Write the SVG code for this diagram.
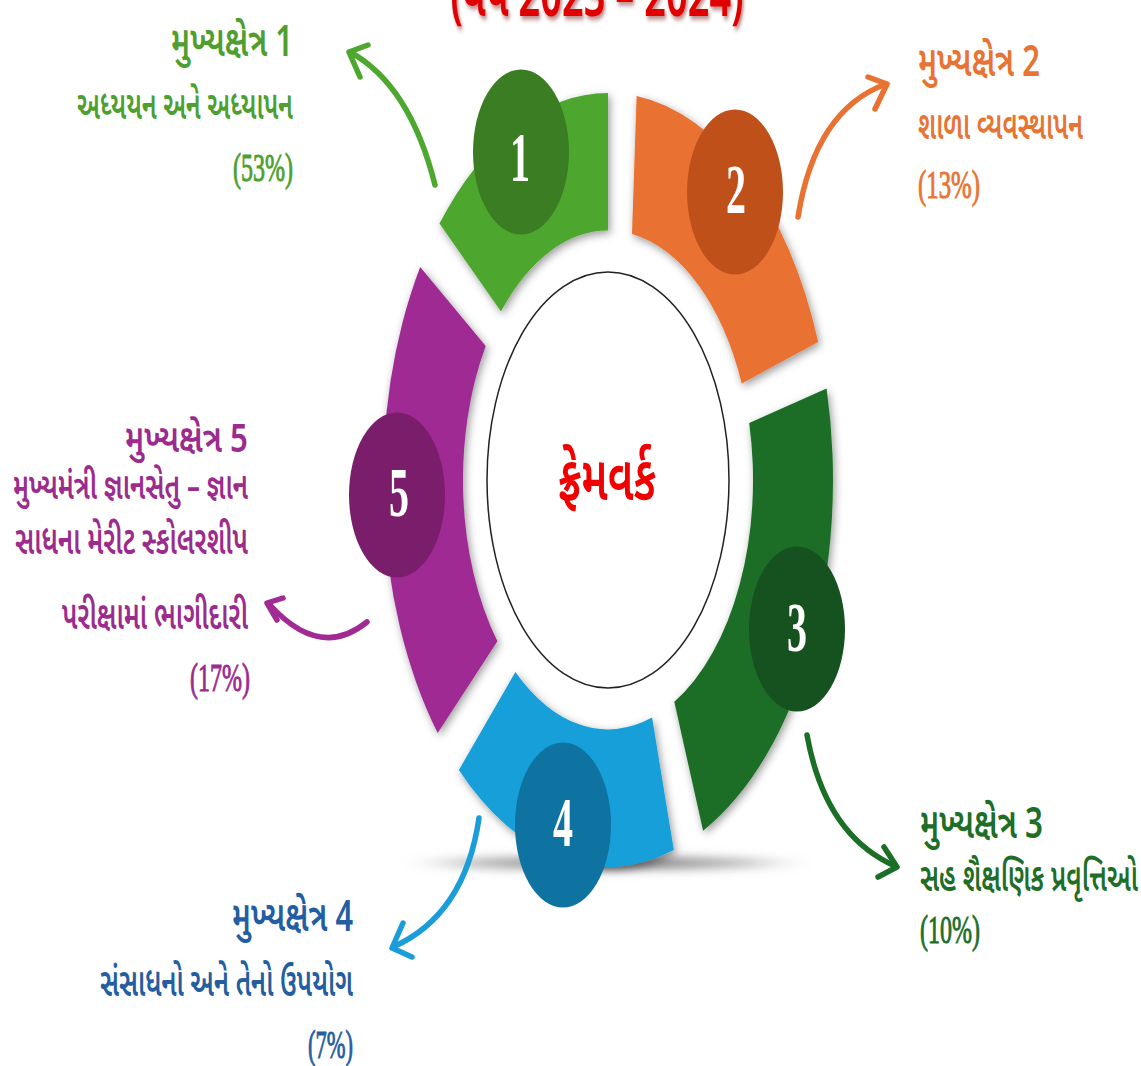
<svg xmlns="http://www.w3.org/2000/svg" width="1141" height="1066" viewBox="0 0 1141 1066">
<style>
.guj{font-family:'Noto Sans Gujarati','Noto Serif Gujarati','Lohit Gujarati','Shruti','Noto Sans',sans-serif;font-weight:600;stroke-width:0;}
.ser{font-family:'Liberation Serif','Times New Roman',serif;stroke-width:0.6px;}
.num{font-family:'Liberation Serif','Times New Roman',serif;font-weight:bold;font-size:40px;fill:#fff;text-anchor:middle;}
.seg{filter:url(#sh);}
.arw{fill:none;stroke-width:5.5;stroke-linecap:round;stroke-linejoin:round;}
</style>
<defs>
<filter id="sh" x="-20%" y="-20%" width="140%" height="140%">
<feDropShadow dx="2" dy="3" stdDeviation="4" flood-color="#000" flood-opacity="0.4"/>
</filter>
<filter id="tsh" x="-10%" y="-50%" width="120%" height="200%">
<feDropShadow dx="1.5" dy="2" stdDeviation="1.5" flood-color="#600" flood-opacity="0.5"/>
</filter>
<filter id="blur" x="-20%" y="-300%" width="140%" height="700%">
<feGaussianBlur stdDeviation="5"/>
</filter>
<radialGradient id="gs" cx="0.5" cy="0.5" r="0.5">
<stop offset="0" stop-color="#333" stop-opacity="0.9"/>
<stop offset="0.7" stop-color="#777" stop-opacity="0.5"/>
<stop offset="1" stop-color="#aaa" stop-opacity="0"/>
</radialGradient>
</defs>
<rect width="1141" height="1066" fill="#fff"/>

<g id="title">
<text class="guj" font-weight="bold" font-size="40" fill="#E00000" text-anchor="middle" textLength="293" lengthAdjust="spacingAndGlyphs" filter="url(#tsh)" transform="translate(597,16) scale(1,1.6)">(વર્ષ 2023 – 2024)</text>
</g>

<ellipse id="ground-shadow" cx="607" cy="863" rx="205" ry="9" fill="url(#gs)" filter="url(#blur)"/>

<g id="node-1">
<path class="seg" fill="#4EA72E" d="M439.5,223.6 A225,387 0 0 1 608,93 L608,230.6 A145,249.4 0 0 0 501,311.5 Z"/>
<ellipse cx="521" cy="152" rx="48" ry="82.5" fill="#3A7D22"/>
<text class="num" transform="translate(520,181) scale(1,1.75)">1</text>
</g>
<g id="node-2">
<path class="seg" fill="#E97132" d="M636.6,96 A225,387 0 0 1 818.2,342 L741.7,383.4 A145,249.4 0 0 0 632,234 Z"/>
<ellipse cx="735" cy="192" rx="48" ry="82.5" fill="#C0501A"/>
<text class="num" transform="translate(736,213) scale(1,1.75)">2</text>
</g>
<g id="node-3">
<path class="seg" fill="#1B6E25" d="M826.6,388.4 A225,387 0 0 1 703.1,830.7 L674.3,701.8 A145,249.4 0 0 0 749.2,423 Z"/>
<ellipse cx="797" cy="629" rx="48" ry="82.5" fill="#155220"/>
<text class="num" transform="translate(797,651) scale(1,1.75)">3</text>
</g>
<g id="node-4">
<path class="seg" fill="#159FD8" d="M673.8,850.1 A225,387 0 0 1 458.9,769.9 L515.4,671.9 A145,249.4 0 0 0 652.1,717.6 Z"/>
<ellipse cx="563" cy="825" rx="48" ry="82.5" fill="#0E73A0"/>
<text class="num" transform="translate(563,846) scale(1,1.75)">4</text>
</g>
<g id="node-5">
<path class="seg" fill="#A02B93" d="M437.7,732.9 A225,387 0 0 1 420.2,267 L485.7,346 A145,249.4 0 0 0 497.4,641.3 Z"/>
<ellipse cx="397" cy="495" rx="48" ry="82.5" fill="#7A1E6C"/>
<text class="num" transform="translate(399,516) scale(1,1.75)">5</text>
</g>

<g id="center">
<ellipse cx="608" cy="480" rx="121" ry="208" fill="#fff" stroke="#222" stroke-width="1.5"/>
<text class="guj" font-weight="bold" font-size="34" fill="#F00000" text-anchor="middle" textLength="98" lengthAdjust="spacingAndGlyphs" transform="translate(607,500) scale(1,1.85)">ફ્રેમવર્ક</text>
</g>

<g id="label-1" fill="#4E9F30" stroke="#4E9F30">
<text class="guj" font-size="24" text-anchor="end" textLength="122" lengthAdjust="spacingAndGlyphs" transform="translate(293,56) scale(1,1.8)">મુખ્યક્ષેત્ર 1</text>
<text class="guj" font-size="22" text-anchor="end" textLength="216" lengthAdjust="spacingAndGlyphs" transform="translate(293,119) scale(1,1.8)">અધ્યયન અને અધ્યાપન</text>
<text class="ser" font-size="24" text-anchor="end" textLength="60" lengthAdjust="spacingAndGlyphs" transform="translate(293,181) scale(1,1.7)">(53%)</text>
</g>
<g id="label-2" fill="#E87434" stroke="#E87434">
<text class="guj" font-size="24" textLength="122" lengthAdjust="spacingAndGlyphs" transform="translate(918,76) scale(1,1.8)">મુખ્યક્ષેત્ર 2</text>
<text class="guj" font-size="22" textLength="165" lengthAdjust="spacingAndGlyphs" transform="translate(918,139) scale(1,1.8)">શાળા વ્યવસ્થાપન</text>
<text class="ser" font-size="24" textLength="62" lengthAdjust="spacingAndGlyphs" transform="translate(918,198) scale(1,1.7)">(13%)</text>
</g>
<g id="label-3" fill="#1F6E27" stroke="#1F6E27">
<text class="guj" font-size="24" textLength="123" lengthAdjust="spacingAndGlyphs" transform="translate(920,838) scale(1,1.8)">મુખ્યક્ષેત્ર 3</text>
<text class="guj" font-size="22" textLength="218" lengthAdjust="spacingAndGlyphs" transform="translate(920,891) scale(1,1.8)">સહ શૈક્ષણિક પ્રવૃત્તિઓ</text>
<text class="ser" font-size="24" textLength="60" lengthAdjust="spacingAndGlyphs" transform="translate(920,943) scale(1,1.7)">(10%)</text>
</g>
<g id="label-4" fill="#245EA0" stroke="#245EA0">
<text class="guj" font-size="24" text-anchor="end" textLength="121" lengthAdjust="spacingAndGlyphs" transform="translate(353,931) scale(1,1.8)">મુખ્યક્ષેત્ર 4</text>
<text class="guj" font-size="22" text-anchor="end" textLength="253" lengthAdjust="spacingAndGlyphs" transform="translate(353,996) scale(1,1.8)">સંસાધનો અને તેનો ઉપયોગ</text>
<text class="ser" font-size="24" text-anchor="end" textLength="45" lengthAdjust="spacingAndGlyphs" transform="translate(353,1058) scale(1,1.7)">(7%)</text>
</g>
<g id="label-5" fill="#9B2C8E" stroke="#9B2C8E">
<text class="guj" font-size="24" text-anchor="end" textLength="123" lengthAdjust="spacingAndGlyphs" transform="translate(248,452) scale(1,1.65)">મુખ્યક્ષેત્ર 5</text>
<text class="guj" font-size="22" text-anchor="end" textLength="235" lengthAdjust="spacingAndGlyphs" transform="translate(248,499) scale(1,1.7)">મુખ્યમંત્રી જ્ઞાનસેતુ – જ્ઞાન</text>
<text class="guj" font-size="22" text-anchor="end" textLength="233" lengthAdjust="spacingAndGlyphs" transform="translate(248,554) scale(1,1.8)">સાધના મેરીટ સ્કોલરશીપ</text>
<text class="guj" font-size="22" text-anchor="end" textLength="186" lengthAdjust="spacingAndGlyphs" transform="translate(248,629) scale(1,1.8)">પરીક્ષામાં ભાગીદારી</text>
<text class="ser" font-size="24" text-anchor="end" textLength="60" lengthAdjust="spacingAndGlyphs" transform="translate(250,691) scale(1,1.7)">(17%)</text>
</g>

<g id="connectors">
<g stroke="#4EA72E" class="arw"><path d="M435,185 Q410,85 350,52"/><path d="M368,45 L349,52 L360,77"/></g>
<g stroke="#E97132" class="arw"><path d="M798,217 Q815,110 886,84"/><path d="M868,77 L887,84 L875,109"/></g>
<g stroke="#1B6E25" class="arw"><path d="M807,735 Q825,835 895,866"/><path d="M884,847 L897,867 L878,877"/></g>
<g stroke="#1A9DD9" class="arw"><path d="M479,818 Q465,915 393,947"/><path d="M403,923 L392,948 L412,957"/></g>
<g stroke="#A02B93" class="arw"><path d="M367,622 Q320,660 270,605"/><path d="M283,598 L267,603 L277,620"/></g>
</g>
</svg>
